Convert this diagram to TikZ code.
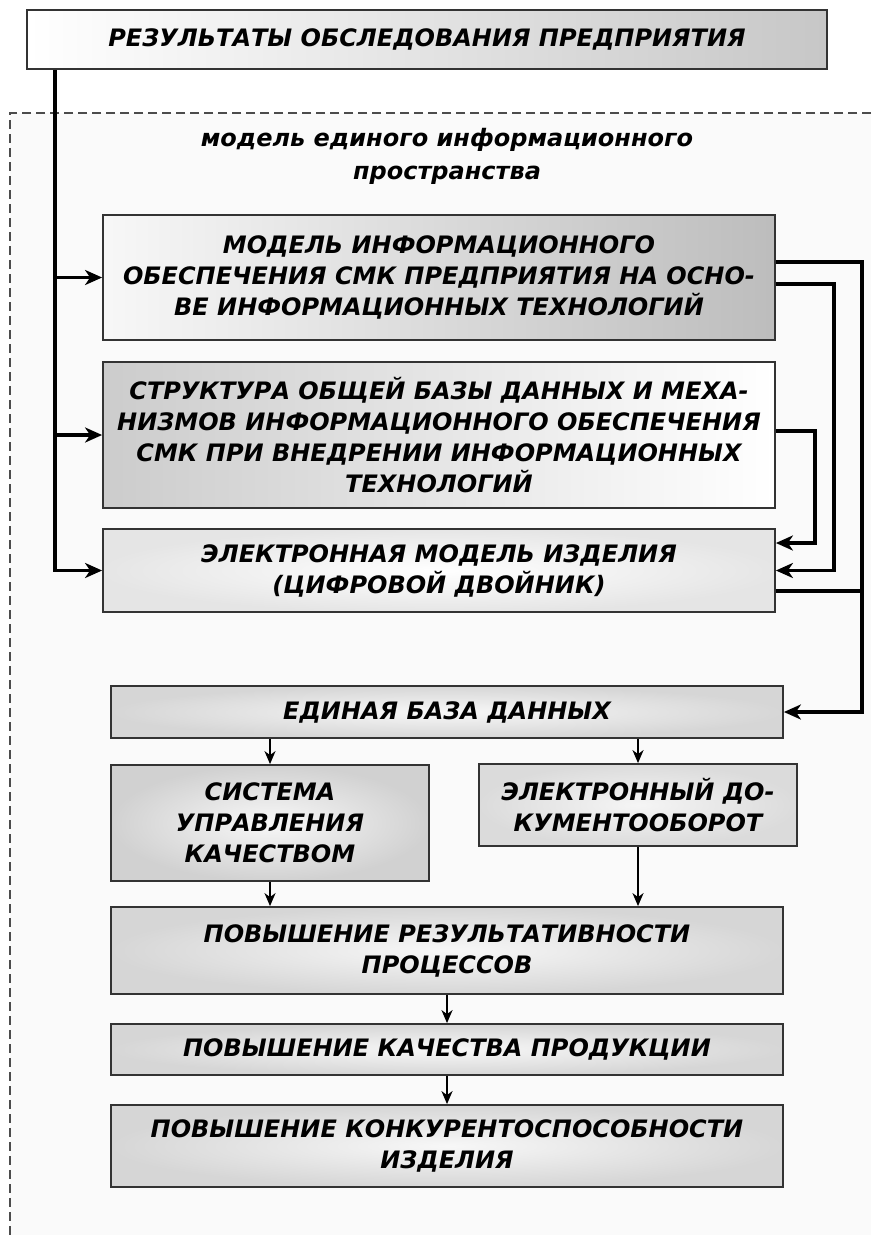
\documentclass[tikz,border=0pt]{standalone}
\usepackage{fontspec}
\setmainfont{DejaVu Sans}
\usetikzlibrary{arrows.meta}
\tikzset{
	block/.style={draw=black!80, line width=1.8pt, align=center, inner sep=2pt,
			font=\bfseries\itshape\fontsize{24}{31}\selectfont},
	wide/.style={minimum width=672pt},
	link/.style={-{Stealth[length=17pt,width=15pt,inset=5pt]}, line width=3.4pt},
	wire/.style={line width=3.4pt},
	small/.style={-{Stealth[length=13pt,width=11pt,inset=4pt]}, line width=2pt},
	frame/.style={draw=black!70, line width=1.5pt, dash pattern=on 9pt off 5pt}
}

\begin{document}
\begin{tikzpicture}[x=1pt, y=-1pt]
	\useasboundingbox (0,0) rectangle (871,1235);

	% Dashed frame of the model
	\fill[black!2] (10,113) rectangle (871,1235);
	\draw[frame] (871,113) -- (10,113) -- (10,1235);

	% Boxes
	\node[block, minimum width=800pt, minimum height=59pt, left color=white, right color=black!22] (res) at (427,39.5) {РЕЗУЛЬТАТЫ ОБСЛЕДОВАНИЯ ПРЕДПРИЯТИЯ};
	\node[font=\bfseries\itshape\fontsize{24}{33}\selectfont, align=center] (title) at (447,156) {модель единого информационного\\пространства};
	\node[block, wide, minimum height=125pt, left color=black!3, right color=black!26] (m1) at (439,277.5) {МОДЕЛЬ ИНФОРМАЦИОННОГО\\ОБЕСПЕЧЕНИЯ СМК ПРЕДПРИЯТИЯ НА ОСНО-\\ВЕ ИНФОРМАЦИОННЫХ ТЕХНОЛОГИЙ};
	\node[block, wide, minimum height=146pt, left color=black!20, right color=white] (m2) at (439,435) {СТРУКТУРА ОБЩЕЙ БАЗЫ ДАННЫХ И МЕХА-\\НИЗМОВ ИНФОРМАЦИОННОГО ОБЕСПЕЧЕНИЯ\\СМК ПРИ ВНЕДРЕНИИ ИНФОРМАЦИОННЫХ\\ТЕХНОЛОГИЙ};
	\node[block, wide, minimum height=83pt, inner color=white, outer color=black!10] (m3) at (439,570.5) {ЭЛЕКТРОННАЯ МОДЕЛЬ ИЗДЕЛИЯ\\(ЦИФРОВОЙ ДВОЙНИК)};

	\node[block, wide, minimum height=52pt, inner color=black!3, outer color=black!16] (db) at (447,712) {ЕДИНАЯ БАЗА ДАННЫХ};
	\node[block, minimum width=318pt, minimum height=116pt, inner color=black!3, outer color=black!18] (qms) at (270,823) {СИСТЕМА\\УПРАВЛЕНИЯ\\КАЧЕСТВОМ};
	\node[block, minimum width=318pt, minimum height=82pt, inner color=black!4, outer color=black!14] (edoc) at (638,805) {ЭЛЕКТРОННЫЙ ДО-\\КУМЕНТООБОРОТ};
	\node[block, wide, minimum height=87pt, inner color=black!3, outer color=black!16] (eff) at (447,950.5) {ПОВЫШЕНИЕ РЕЗУЛЬТАТИВНОСТИ\\ПРОЦЕССОВ};
	\node[block, wide, minimum height=51pt, inner color=black!3, outer color=black!16] (qual) at (447,1049.5) {ПОВЫШЕНИЕ КАЧЕСТВА ПРОДУКЦИИ};
	\node[block, wide, minimum height=82pt, inner color=black!3, outer color=black!16] (comp) at (447,1146) {ПОВЫШЕНИЕ КОНКУРЕНТОСПОСОБНОСТИ\\ИЗДЕЛИЯ};

	% Left trunk
	\coordinate (trunk) at (55,0);
	\draw[link] (res.south -| trunk) |- (m3);
	\draw[link] (trunk |- m1) -- (m1);
	\draw[link] (trunk |- m2) -- (m2);

	% Right feedback lines
	\draw[link] ([yshift=15.5pt]m1.east) -| ([xshift=78pt]db.east) -- (db.east);
	\draw[link] ([yshift=-6.5pt]m1.east) -| ([xshift=58pt]m3.east) -- (m3.east);
	\draw[link] ([yshift=4pt]m2.east) -| ([xshift=39pt,yshift=27.5pt]m3.east) -- ([yshift=27.5pt]m3.east);
	\draw[wire] ([yshift=-20.5pt]m3.east) -- ++(86,0);

	% Lower chain
	\draw[small] (db.south -| qms) -- (qms);
	\draw[small] (db.south -| edoc) -- (edoc);
	\draw[small] (qms) -- (qms |- eff.north);
	\draw[small] (edoc) -- (edoc |- eff.north);
	\draw[small] (eff) -- (qual);
	\draw[small] (qual) -- (comp);
\end{tikzpicture}
\end{document}
